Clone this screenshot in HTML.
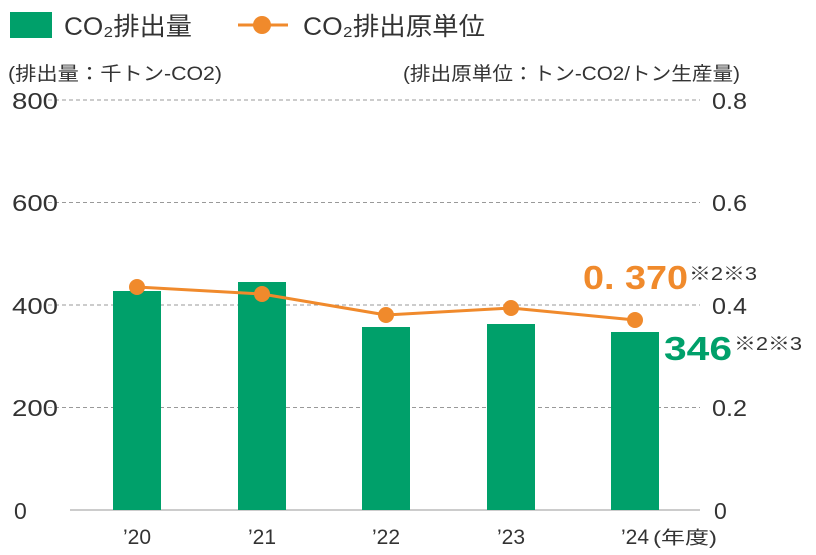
<!DOCTYPE html>
<html><head><meta charset="utf-8"><style>
body{margin:0;background:#fff;}
svg{display:block;font-family:"Liberation Sans","Noto Sans CJK JP",sans-serif;}
</style></head><body>
<svg width="816" height="555" viewBox="0 0 816 555">
<rect x="10" y="12" width="42" height="26" fill="#00a06a"/>
<text x="64" y="35" font-size="25" fill="#333" textLength="128" lengthAdjust="spacingAndGlyphs">CO₂排出量</text>
<line x1="238" y1="25" x2="288" y2="25" stroke="#f08a2c" stroke-width="3"/>
<circle cx="262" cy="25" r="9" fill="#f08a2c"/>
<text x="303" y="35" font-size="25" fill="#333" textLength="182" lengthAdjust="spacingAndGlyphs">CO₂排出原単位</text>
<text x="8" y="80" font-size="19" fill="#333" textLength="214" lengthAdjust="spacingAndGlyphs">(排出量：千トン-CO2)</text>
<text x="403" y="80" font-size="19" fill="#333" textLength="337" lengthAdjust="spacingAndGlyphs">(排出原単位：トン-CO2/トン生産量)</text>
<g stroke="#999" stroke-dasharray="4,3" stroke-width="1">
<line x1="48" y1="100" x2="700" y2="100"/>
<line x1="48" y1="202.5" x2="700" y2="202.5"/>
<line x1="48" y1="305" x2="700" y2="305"/>
<line x1="48" y1="407.5" x2="700" y2="407.5"/>
</g>
<line x1="70" y1="510" x2="700" y2="510" stroke="#999"/>
<g font-size="23" fill="#333">
<text x="12" y="109" textLength="46" lengthAdjust="spacingAndGlyphs">800</text><text x="12" y="211" textLength="46" lengthAdjust="spacingAndGlyphs">600</text><text x="12" y="314" textLength="46" lengthAdjust="spacingAndGlyphs">400</text><text x="12" y="416" textLength="46" lengthAdjust="spacingAndGlyphs">200</text><text x="14" y="519">0</text>
<text x="712" y="109" textLength="35" lengthAdjust="spacingAndGlyphs">0.8</text><text x="712" y="211" textLength="35" lengthAdjust="spacingAndGlyphs">0.6</text><text x="712" y="314" textLength="35" lengthAdjust="spacingAndGlyphs">0.4</text><text x="712" y="416" textLength="35" lengthAdjust="spacingAndGlyphs">0.2</text><text x="714" y="519">0</text>
</g>
<g font-size="21" fill="#333">
<text x="137" y="544" text-anchor="middle">’20</text>
<text x="262" y="544" text-anchor="middle">’21</text>
<text x="386" y="544" text-anchor="middle">’22</text>
<text x="511" y="544" text-anchor="middle">’23</text>
<text x="635" y="544" text-anchor="middle">’24</text>
<text x="653" y="544" font-size="18" textLength="64" lengthAdjust="spacingAndGlyphs">(年度)</text>
</g>
<g fill="#00a06a">
<rect x="113" y="291" width="48" height="219"/>
<rect x="238" y="282" width="48" height="228"/>
<rect x="362" y="327" width="48" height="183"/>
<rect x="487" y="324" width="48" height="186"/>
<rect x="611" y="332" width="48" height="178"/>
</g>
<polyline points="137,287 262,294 386,315 511,308 635,320" fill="none" stroke="#f08a2c" stroke-width="3"/>
<g fill="#f08a2c">
<circle cx="137" cy="287" r="8"/><circle cx="262" cy="294" r="8"/><circle cx="386" cy="315" r="8"/><circle cx="511" cy="308" r="8"/><circle cx="635" cy="320" r="8"/>
</g>
<text x="583" y="289" font-size="33" font-weight="bold" fill="#f08a2c" textLength="105" lengthAdjust="spacingAndGlyphs">0. 370</text>
<text x="689" y="280" font-size="18" fill="#333" textLength="68" lengthAdjust="spacingAndGlyphs">※2※3</text>
<text x="664" y="360" font-size="33" font-weight="bold" fill="#00a06a" textLength="68" lengthAdjust="spacingAndGlyphs">346</text>
<text x="734" y="350" font-size="18" fill="#333" textLength="68" lengthAdjust="spacingAndGlyphs">※2※3</text>
</svg>
</body></html>
